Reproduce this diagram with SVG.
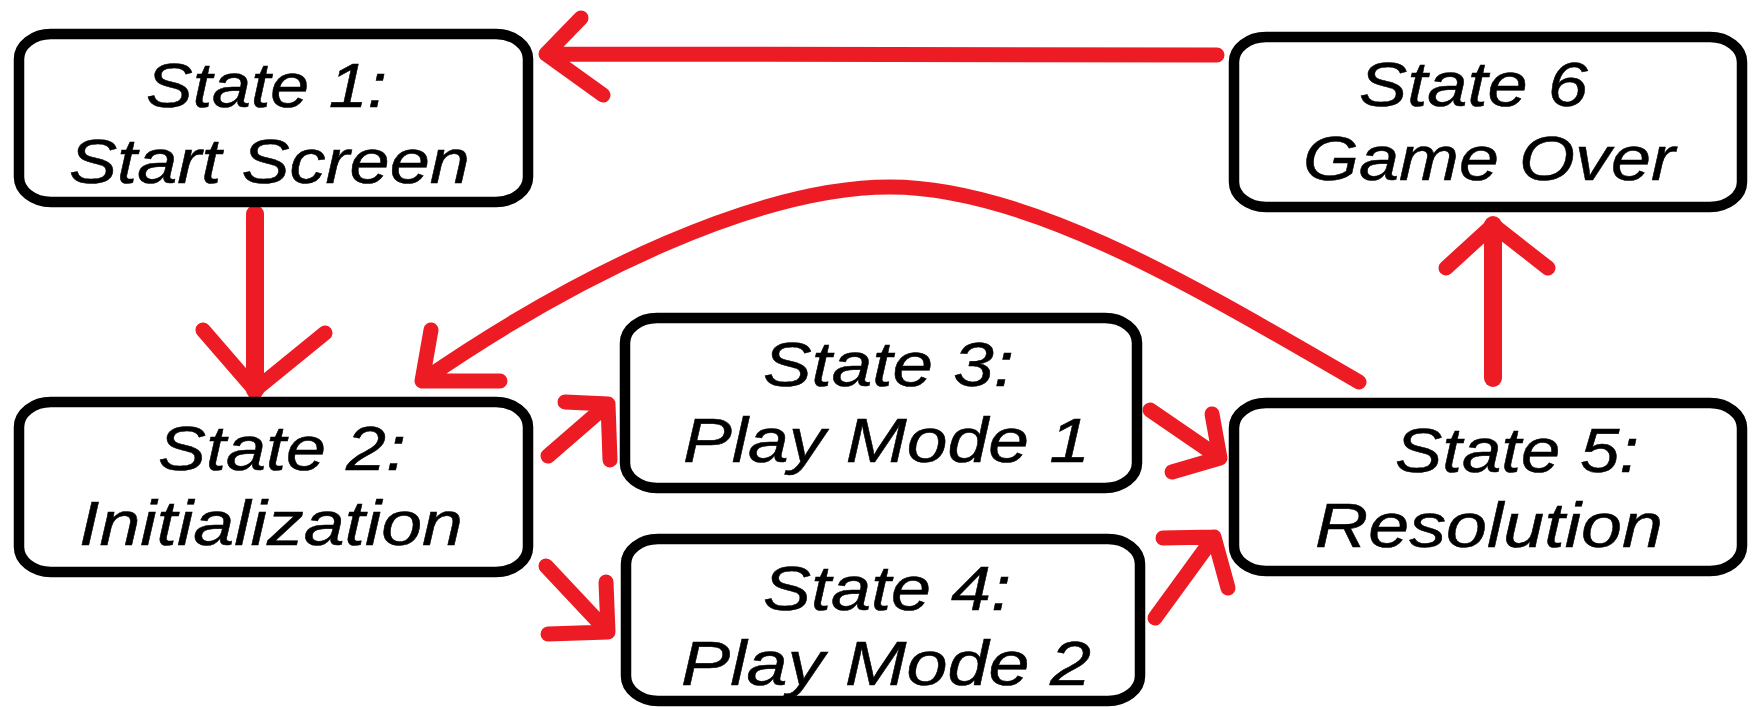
<svg xmlns="http://www.w3.org/2000/svg" width="1760" height="707" viewBox="0 0 1760 707">
<style>
.box{fill:#fff;stroke:#000;stroke-width:10.5}
.lbl{font-family:"Liberation Sans",Arial,sans-serif;font-style:italic;font-size:63px;fill:#000;stroke:#000;stroke-width:0.5}
.c{fill:none;stroke:#ED1C24;stroke-width:15;stroke-linecap:round;stroke-linejoin:round}
.v{stroke-width:18}
</style>
<rect width="1760" height="707" fill="#fff"/>
<g id="connectors">
<path class="c" d="M1217,55 L546,54 M581,18 L546,54 L603,95"/>
<path class="c v" d="M255,214 L255,390"/>
<path class="c" d="M203,330 L255,390 L325,333"/>
<path class="c" d="M1359,382 C1200,290 1030,187 890,187 C760,187 580,272 422,381 M431,330 L422,381 L500,381"/>
<path class="c" d="M548,456 L608,404 M565,402 L608,404 L610,460"/>
<path class="c" d="M546,566 L608,632 M548,634 L608,632 L606,582"/>
<path class="c" d="M1150,410 L1220,458 M1212,414 L1220,458 L1172,472"/>
<path class="c" d="M1155,618 L1214,537 M1163,538 L1214,537 L1228,588"/>
<path class="c v" d="M1493,378 L1493,225"/>
<path class="c" d="M1446,268 L1493,225 L1548,268"/>
</g>
<g id="state1">
<rect class="box" x="19" y="34" width="509" height="168" rx="32" ry="25"/>
<text class="lbl" x="146" y="107" textLength="241" lengthAdjust="spacingAndGlyphs">State 1:</text>
<text class="lbl" x="69" y="183" textLength="401" lengthAdjust="spacingAndGlyphs">Start Screen</text>
</g>
<g id="state2">
<rect class="box" x="19" y="402" width="509" height="170" rx="32" ry="25"/>
<text class="lbl" x="158" y="470" textLength="248" lengthAdjust="spacingAndGlyphs">State 2:</text>
<text class="lbl" x="79" y="545" textLength="384" lengthAdjust="spacingAndGlyphs">Initialization</text>
</g>
<g id="state3">
<rect class="box" x="625" y="318" width="512" height="170" rx="32" ry="25"/>
<text class="lbl" x="763" y="386" textLength="251" lengthAdjust="spacingAndGlyphs">State 3:</text>
<text class="lbl" x="683" y="462" textLength="407" lengthAdjust="spacingAndGlyphs">Play Mode 1</text>
</g>
<g id="state4">
<rect class="box" x="626" y="539" width="514" height="162" rx="32" ry="25"/>
<text class="lbl" x="763" y="610" textLength="248" lengthAdjust="spacingAndGlyphs">State 4:</text>
<text class="lbl" x="681" y="685" textLength="410" lengthAdjust="spacingAndGlyphs">Play Mode 2</text>
</g>
<g id="state5">
<rect class="box" x="1234" y="403" width="508" height="168" rx="32" ry="25"/>
<text class="lbl" x="1395" y="472" textLength="244" lengthAdjust="spacingAndGlyphs">State 5:</text>
<text class="lbl" x="1315" y="547" textLength="348" lengthAdjust="spacingAndGlyphs">Resolution</text>
</g>
<g id="state6">
<rect class="box" x="1234" y="37" width="508" height="170" rx="32" ry="25"/>
<text class="lbl" x="1359" y="106" textLength="229" lengthAdjust="spacingAndGlyphs">State 6</text>
<text class="lbl" x="1303" y="180" textLength="372" lengthAdjust="spacingAndGlyphs">Game Over</text>
</g>
</svg>
